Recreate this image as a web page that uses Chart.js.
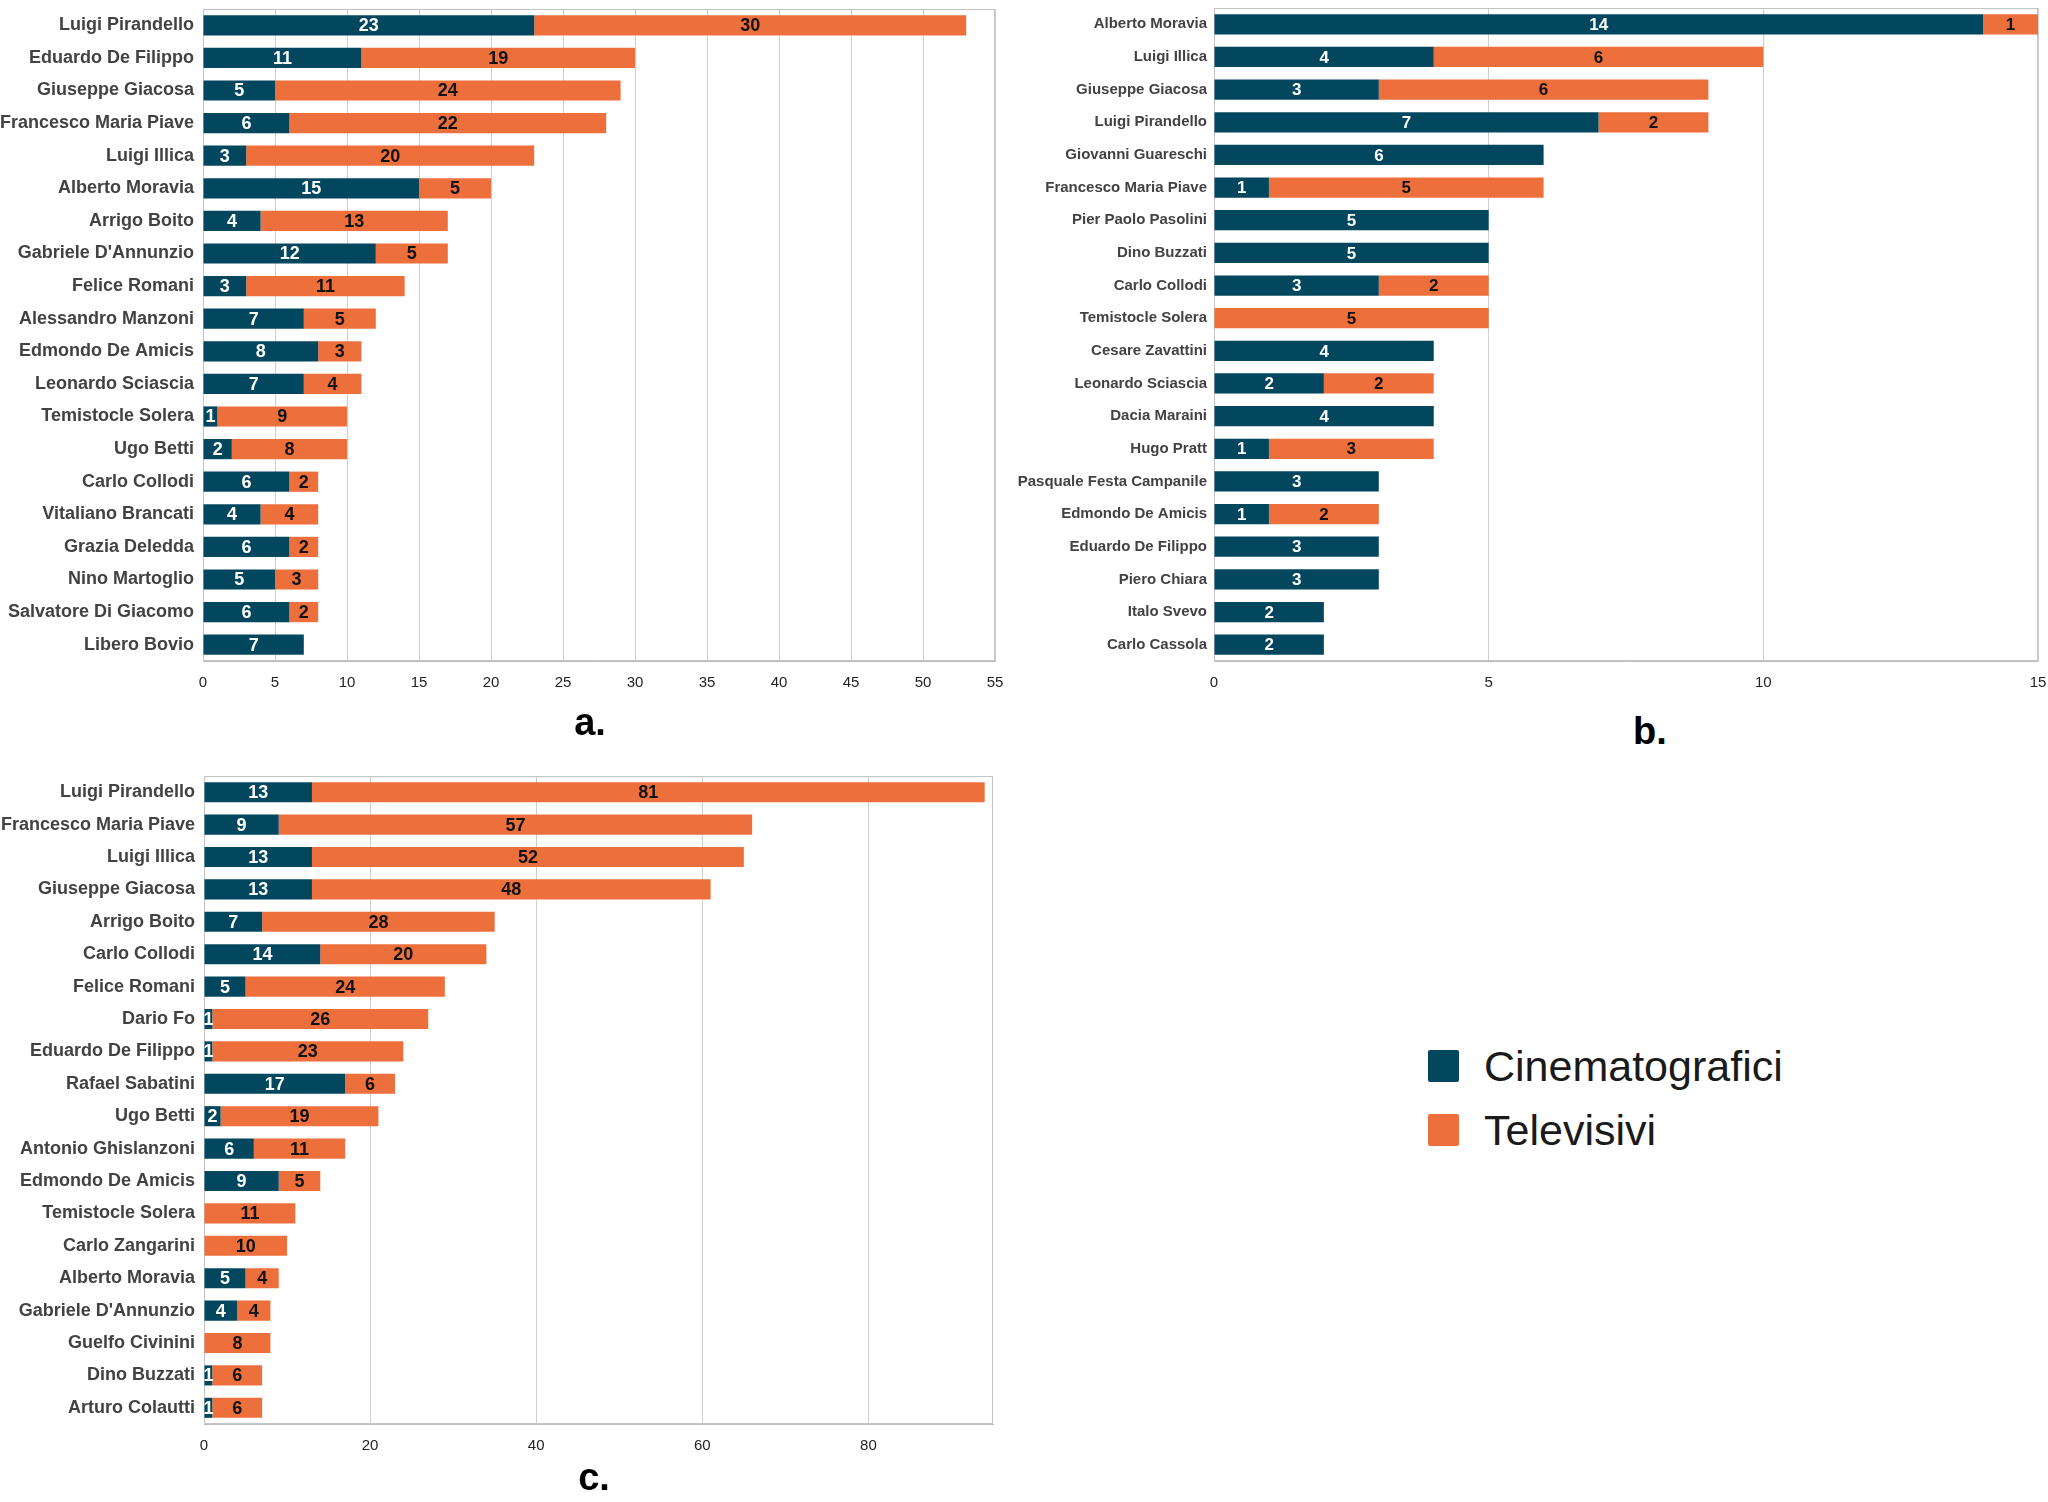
<!DOCTYPE html>
<html>
<head>
<meta charset="utf-8">
<script src="https://cdn.jsdelivr.net/npm/chart.js@4.4.1/dist/chart.umd.min.js"></script>
<style>
  body { margin: 0; background: #fff; width: 2048px; height: 1502px; position: relative; overflow: hidden; font-family: 'Liberation Sans', Arial, sans-serif; }
  canvas { position: absolute; }
  #chartA { left: 0; top: 0; }
  #chartB { left: 1010px; top: 0; }
  #chartC { left: 0; top: 740px; }
  .tag { position: absolute; font-weight: bold; font-size: 38px; color: #000; transform: translate(-50%, -50%); }
  .leg { position: absolute; left: 1428px; font-size: 43px; color: #1a1a1a; display: flex; align-items: center; height: 40px; }
  .leg span.sw { width: 31px; height: 32px; border-radius: 2px; margin-right: 25px; display: inline-block; }
</style>
</head>
<body>
<canvas id="chartA" width="1010" height="700"></canvas>
<canvas id="chartB" width="1038" height="700"></canvas>
<canvas id="chartC" width="1010" height="720"></canvas>

<div class="tag" style="left:590px; top:722px;">a.</div>
<div class="tag" style="left:1650px; top:731px;">b.</div>
<div class="tag" style="left:594px; top:1477px;">c.</div>

<div class="leg" style="top:1046px;"><span class="sw" style="background:#03475f"></span>Cinematografici</div>
<div class="leg" style="top:1110px;"><span class="sw" style="background:#ed6f3b"></span>Televisivi</div>

<script>
const BLUE = '#03475f';
const ORANGE = '#ed6f3b';

// panel a
const labelsA = ['Luigi Pirandello', 'Eduardo De Filippo', 'Giuseppe Giacosa', 'Francesco Maria Piave', 'Luigi Illica',
  'Alberto Moravia', 'Arrigo Boito', "Gabriele D'Annunzio", 'Felice Romani', 'Alessandro Manzoni',
  'Edmondo De Amicis', 'Leonardo Sciascia', 'Temistocle Solera', 'Ugo Betti', 'Carlo Collodi',
  'Vitaliano Brancati', 'Grazia Deledda', 'Nino Martoglio', 'Salvatore Di Giacomo', 'Libero Bovio'];
const cinemaA = [23, 11, 5, 6, 3, 15, 4, 12, 3, 7, 8, 7, 1, 2, 6, 4, 6, 5, 6, 7];
const tvA = [30, 19, 24, 22, 20, 5, 13, 5, 11, 5, 3, 4, 9, 8, 2, 4, 2, 3, 2, 0];

// panel b
const labelsB = ['Alberto Moravia', 'Luigi Illica', 'Giuseppe Giacosa', 'Luigi Pirandello', 'Giovanni Guareschi',
  'Francesco Maria Piave', 'Pier Paolo Pasolini', 'Dino Buzzati', 'Carlo Collodi', 'Temistocle Solera',
  'Cesare Zavattini', 'Leonardo Sciascia', 'Dacia Maraini', 'Hugo Pratt', 'Pasquale Festa Campanile',
  'Edmondo De Amicis', 'Eduardo De Filippo', 'Piero Chiara', 'Italo Svevo', 'Carlo Cassola'];
const cinemaB = [14, 4, 3, 7, 6, 1, 5, 5, 3, 0, 4, 2, 4, 1, 3, 1, 3, 3, 2, 2];
const tvB = [1, 6, 6, 2, 0, 5, 0, 0, 2, 5, 0, 2, 0, 3, 0, 2, 0, 0, 0, 0];

// panel c
const labelsC = ['Luigi Pirandello', 'Francesco Maria Piave', 'Luigi Illica', 'Giuseppe Giacosa', 'Arrigo Boito',
  'Carlo Collodi', 'Felice Romani', 'Dario Fo', 'Eduardo De Filippo', 'Rafael Sabatini',
  'Ugo Betti', 'Antonio Ghislanzoni', 'Edmondo De Amicis', 'Temistocle Solera', 'Carlo Zangarini',
  'Alberto Moravia', "Gabriele D'Annunzio", 'Guelfo Civinini', 'Dino Buzzati', 'Arturo Colautti'];
const cinemaC = [13, 9, 13, 13, 7, 14, 5, 1, 1, 17, 2, 6, 9, 0, 0, 5, 4, 0, 1, 1];
const tvC = [81, 57, 52, 48, 28, 20, 24, 26, 23, 6, 19, 11, 5, 11, 10, 4, 4, 8, 6, 6];

Chart.defaults.font.family = "'Liberation Sans', Arial, sans-serif";
Chart.defaults.animation = false;

// grey box around the plot area
const framePlugin = {
  id: 'frame',
  beforeDatasetsDraw(chart) {
    const a = chart.chartArea, ctx = chart.ctx;
    ctx.save();
    ctx.strokeStyle = '#c4c4c4';
    ctx.lineWidth = 1;
    ctx.strokeRect(a.left + 0.5, a.top + 0.5, a.right - a.left - 1, a.bottom - a.top - 1);
    ctx.restore();
  }
};

// value labels in the middle of each segment
const valuePlugin = {
  id: 'values',
  afterDatasetsDraw(chart, args, opts) {
    const ctx = chart.ctx;
    ctx.save();
    ctx.font = 'bold ' + opts.size + 'px ' + Chart.defaults.font.family;
    ctx.textAlign = 'center';
    ctx.textBaseline = 'middle';
    chart.data.datasets.forEach((ds, i) => {
      const meta = chart.getDatasetMeta(i);
      ctx.fillStyle = i === 0 ? '#ffffff' : '#111111';
      meta.data.forEach((bar, j) => {
        const v = ds.data[j];
        if (!v) return;
        ctx.fillText(String(v), (bar.x + bar.base) / 2, bar.y + 1);
      });
    });
    ctx.restore();
  }
};

function makeChart(id, labels, cinema, tv, o) {
  return new Chart(document.getElementById(id), {
    type: 'bar',
    data: {
      labels: labels,
      datasets: [
        { label: 'Cinematografici', data: cinema, backgroundColor: BLUE },
        { label: 'Televisivi', data: tv, backgroundColor: ORANGE }
      ]
    },
    options: {
      indexAxis: 'y',
      responsive: false,
      barPercentage: 0.62,
      categoryPercentage: 1,
      layout: { padding: { top: o.top, right: o.right, left: 0, bottom: 0 } },
      plugins: {
        legend: { display: false },
        tooltip: { enabled: false },
        values: { size: o.valSize }
      },
      scales: {
        x: {
          stacked: true,
          min: 0,
          max: o.max,
          afterFit: s => { s.height = o.xh; s.paddingLeft = 0; s.paddingRight = 0; },
          ticks: { stepSize: o.step, includeBounds: o.bounds, padding: 13, color: '#222', font: { size: 15 } },
          grid: { color: '#cfcfcf', drawTicks: false },
          border: { color: '#bdbdbd' }
        },
        y: {
          stacked: true,
          afterFit: s => { s.width = o.yw; s.paddingTop = 0; s.paddingBottom = 0; },
          ticks: { padding: o.gap, color: '#424242', font: { size: o.labSize, weight: 'bold' } },
          grid: { display: false, drawTicks: false },
          border: { color: '#bdbdbd' }
        }
      }
    },
    plugins: [framePlugin, valuePlugin]
  });
}

makeChart('chartA', labelsA, cinemaA, tvA, { top: 9, right: 15, xh: 39, yw: 203, max: 55, step: 5, bounds: true, labSize: 18, valSize: 18, gap: 9 });
makeChart('chartB', labelsB, cinemaB, tvB, { top: 8, right: 10, xh: 39, yw: 204, max: 15, step: 5, bounds: true, labSize: 15, valSize: 17, gap: 7 });
makeChart('chartC', labelsC, cinemaC, tvC, { top: 36, right: 17, xh: 36, yw: 204, max: 95, step: 20, bounds: false, labSize: 18, valSize: 18, gap: 9 });
</script>
</body>
</html>
